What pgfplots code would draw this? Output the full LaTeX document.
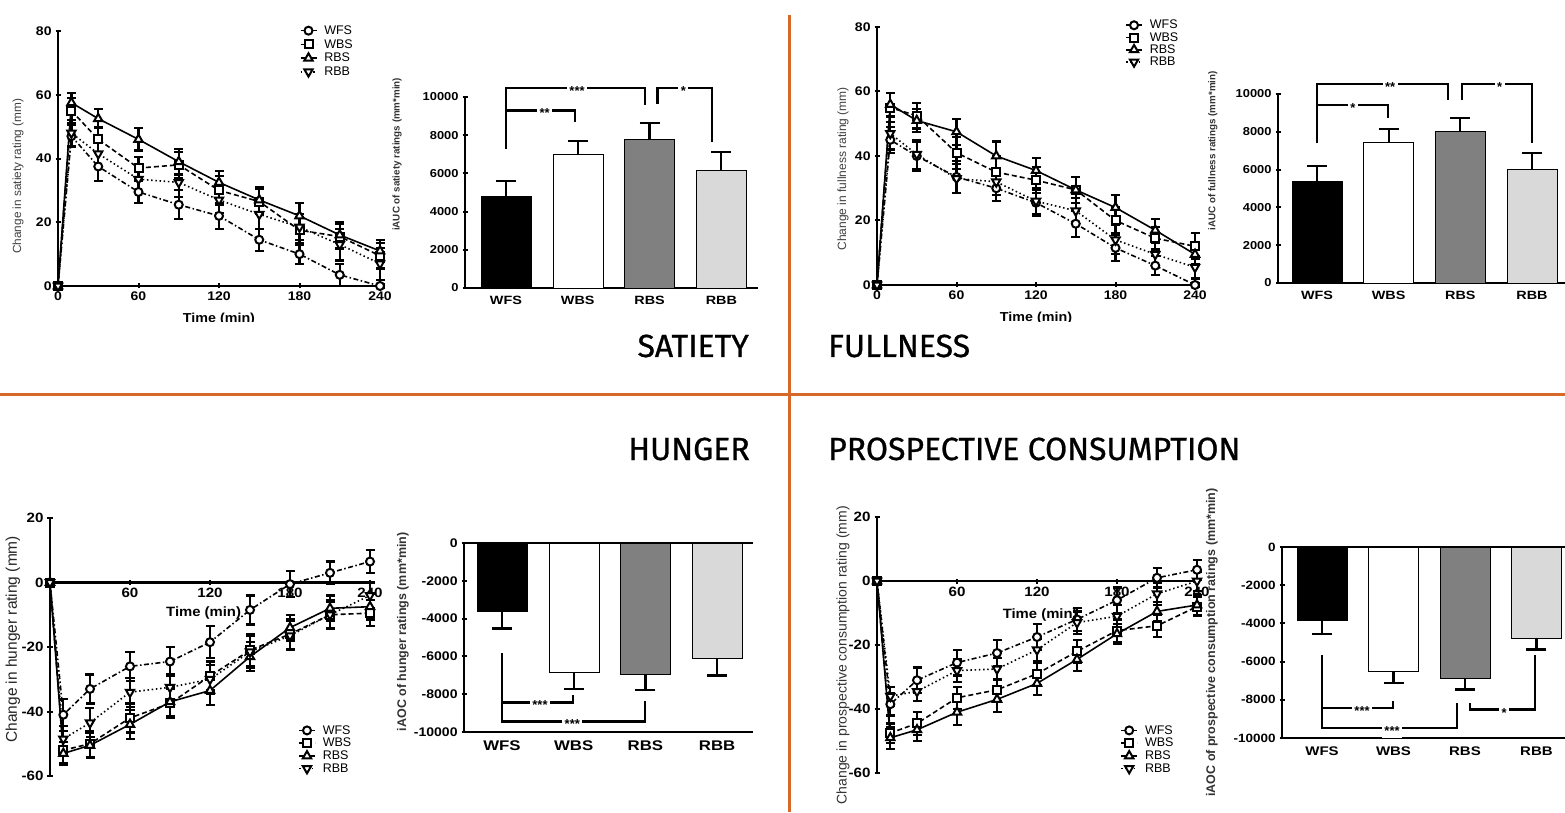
\documentclass[border=0pt]{standalone}
\usepackage{fontspec}
\setmainfont{Liberation Sans}
\newfontfamily\hdr{Fira Sans}[FakeBold=0.8]
\usepackage{pgfplots}
\usepackage{pgfplotstable}
\pgfplotsset{compat=1.18}
\definecolor{orng}{RGB}{214,104,40}
\newcommand{\fs}[1]{\fontsize{#1}{#1}\selectfont}

\tikzset{
  sig/.style={line width=2.4pt, black},
  stars/.style={fill=white, inner sep=2.5pt, font=\fs{13}\bfseries, yshift=-3pt},
}
\pgfplotsset{
  pr/.style={scale only axis, clip=false,
    axis line style={line width=2.4pt,-},
    every outer x axis line/.append style={-},
    every outer y axis line/.append style={-},
    every inner x axis line/.append style={-},
    tick style={line width=2pt, black}, major tick length=5pt, tick align=outside,
    /pgf/number format/assume math mode=true, /pgf/number format/1000 sep={},
    legend cell align=left,
    legend image code/.code={\draw[mark repeat=2,mark phase=2,##1] plot coordinates {(0pt,0pt) (8pt,0pt) (16pt,0pt)};}},
  leg/.style={legend style={draw=none, fill=none, font=\fs{12.5}, inner sep=0pt,
    /tikz/every odd column/.append style={column sep=5pt}}},
  sWFS/.style={black, line width=1.6pt, dash pattern=on 5pt off 2.5pt on 1.5pt off 2.5pt, mark=*, mark size=4pt, mark options={solid, fill=white, draw=black, line width=2pt}},
  sWBS/.style={black, line width=1.6pt, dash pattern=on 5pt off 3pt, mark=square*, mark size=4pt, mark options={solid, fill=white, draw=black, line width=2pt}},
  sRBS/.style={black, line width=1.6pt, solid, mark=triangle*, mark size=4.8pt, mark options={solid, fill=white, draw=black, line width=2pt}},
  sRBB/.style={black, line width=1.6pt, dash pattern=on 1.5pt off 2.7pt, mark=triangle*, mark size=4.8pt, mark options={solid, fill=white, draw=black, line width=2pt, rotate=180}},
  ebar/.style={/pgfplots/error bars/y dir=both, /pgfplots/error bars/y explicit,
    /pgfplots/error bars/error bar style={line width=2.2pt, solid, black},
    /pgfplots/error bars/error mark options={rotate=90, mark size=4.5pt, line width=2.2pt, solid, black}},
  bplus/.style={/pgfplots/error bars/y dir=plus, /pgfplots/error bars/y explicit,
    /pgfplots/error bars/error bar style={line width=2.2pt, black},
    /pgfplots/error bars/error mark options={rotate=90, mark size=10pt, line width=2.2pt, black}},
  bminus/.style={/pgfplots/error bars/y dir=minus, /pgfplots/error bars/y explicit,
    /pgfplots/error bars/error bar style={line width=2.2pt, black},
    /pgfplots/error bars/error mark options={rotate=90, mark size=10pt, line width=2.2pt, black}},
  barax/.style={pr, axis lines=left, axis line style={-}, ybar, bar width=50pt, bar shift=0pt,
    scaled y ticks=false,
    xtick={0,1,2,3}, xticklabels={WFS,WBS,RBS,RBB}, xtick style={draw=none},
    every bar/.style={draw=black, line width=2.2pt}},
}

\pgfplotstableread{
t wfs wfse wbs wbse rbs rbse rbb rbbe
0 0 0 0 0 0 0 0 0
10 47 3.5 55 4 57.5 3 48 4
30 37.5 4.5 46 4 52.5 3 41.5 4
60 29.5 3.5 37 3.5 46 3.5 33.5 4
90 25.5 4.5 38 4 39 4 32.5 4.5
120 22 4 30 4.5 32.5 3.5 27 4
150 14.5 3.5 26.5 4 27 4 22.5 4.5
180 10 3 17.5 4 22 4 18.5 4
210 3.5 3.5 15.5 4 16 4 13 5
240 0 0.5 9.5 4 11 3.5 7 5
}\satiety

\pgfplotstableread{
t wfs wfse wbs wbse rbs rbse rbb rbbe
0 0 0 0 0 0 0 0 0
10 45 4 55 4.5 56 3.5 47 5
30 40 4.5 52.5 4 51 3.5 40.5 4.5
60 33.5 5 41 5 47.5 4 33 4.5
90 30 4 35 5 40 4.5 32 4
120 25.5 4 32.5 4 35.5 4 26 4
150 19 4 29.5 4 29.5 4 23 4
180 11.5 4 20 4 24 4 14 4.5
210 6 3 14.5 3.5 17 3.5 9.5 3.5
240 0 0.5 12 4 9.5 3 5.5 3.5
}\fullness

\pgfplotstableread{
t wfs wfse wbs wbse rbs rbse rbb rbbe
0 0 0 0 0 0 0 0 0
10 -41 5 -52 4 -53 3.5 -48.5 4
30 -33 4.5 -50 4 -50.5 4 -43.5 4.5
60 -26 4.5 -42 4.5 -44 4.5 -34 4.5
90 -24.5 4.5 -37.5 4.5 -37 4.5 -32.5 4
120 -18.5 5 -29 4.5 -33.5 4.5 -30 4.5
150 -8.5 4.5 -21 5 -23 4.5 -21.5 5
180 -0.5 4 -16 4.5 -14 4 -16.5 4.5
210 3 3.5 -10 4 -8 4 -10 4.5
240 6.5 3.5 -9.5 4 -7.5 4 -4 4
}\hunger

\pgfplotstableread{
t wfs wfse wbs wbse rbs rbse rbb rbbe
0 0 0 0 0 0 0 0 0
10 -38.5 3.5 -47.5 3 -49 3.5 -36 3
30 -31 4 -44.5 3.5 -46.5 3.5 -34.5 3
60 -25.5 4 -36.5 3.5 -41 4 -28 3.5
90 -22.5 4 -34 3.5 -37 4 -27.5 3.5
120 -17.5 4 -29 3.5 -32 3.5 -21.5 3.5
150 -12 3.5 -22 3.5 -24.5 3.5 -13 3.5
180 -6 4 -15.5 3.5 -16.5 3 -11 3.5
210 1 3 -14 3.5 -9.5 3 -4 3.5
240 3.5 3 -8 3 -7.5 3 0 3
}\prosp

\begin{document}
\begin{tikzpicture}
\path[use as bounding box, fill=white] (0pt,0pt) rectangle (1565pt,812pt);

% dividers
\draw[orng, line width=3pt] (789pt,0pt) -- (789pt,797pt);
\draw[orng, line width=3pt] (0pt,417pt) -- (1565pt,417pt);

% headers
\begin{scope}[every node/.style={inner sep=0pt, font=\hdr\fs{32}}]
\node[anchor=base east] at (749pt,455pt) {SATIETY};
\node[anchor=base west] at (828pt,455pt) {FULLNESS};
\node[anchor=base east] at (750pt,352pt) {HUNGER};
\node[anchor=base west] at (828pt,352pt) {PROSPECTIVE CONSUMPTION};
\end{scope}

% ---------- A: satiety line ----------
\begin{scope}
\clip (0pt,490pt) rectangle (785pt,812pt);
\begin{axis}[pr, leg, axis lines=left, axis line style={-}, at={(58pt,526pt)}, anchor=south west,
  width=322pt, height=255pt, xmin=0, xmax=240, ymin=0, ymax=80,
  xtick={0,60,120,180,240}, ytick={0,20,40,60,80},
  ticklabel style={font=\fs{12.5}\bfseries, xscale=1.12},
  xlabel={Time (min)}, xlabel style={font=\fs{13}\bfseries, xscale=1.1, yshift=-5pt},
  ylabel={Change in satiety rating (mm)},
  ylabel style={at={(axis description cs:-0.124,0.43)}, anchor=center, font=\fs{11.8}, text=black!75},
  legend style={at={(axis description cs:0.75,1.03)}, anchor=north west, row sep=-0.5pt}]
\addplot[sWFS, ebar] table[x=t, y=wfs, y error=wfse] {\satiety}; \addlegendentry{WFS}
\addplot[sWBS, ebar] table[x=t, y=wbs, y error=wbse] {\satiety}; \addlegendentry{WBS}
\addplot[sRBS, ebar] table[x=t, y=rbs, y error=rbse] {\satiety}; \addlegendentry{RBS}
\addplot[sRBB, ebar] table[x=t, y=rbb, y error=rbbe] {\satiety}; \addlegendentry{RBB}
\end{axis}
\end{scope}

% ---------- B: satiety bars ----------
\begin{axis}[barax, at={(465pt,524pt)}, anchor=south west, width=293pt, height=191pt,
  xmin=-0.57, xmax=3.51, ymin=0, ymax=10000, ytick={0,2000,...,10000},
  yticklabel style={font=\fs{11.5}\bfseries, xscale=1.12},
  xticklabel style={font=\fs{12}\bfseries, xscale=1.2},
  ylabel={iAUC of satiety ratings (mm*min)},
  ylabel style={at={(axis description cs:-0.232,0.70)}, anchor=center, font=\fs{9.8}\bfseries, text=black!80}]
\addplot[fill=black, bplus] coordinates {(0,4800) +- (0,800)};
\addplot[fill=white, bplus] coordinates {(1,7000) +- (0,690)};
\addplot[fill=black!50, bplus] coordinates {(2,7800) +- (0,840)};
\addplot[fill=black!15, bplus] coordinates {(3,6150) +- (0,980)};
\draw[sig] (axis cs:0,7300) -- (axis cs:0,10470) -- (axis cs:1.94,10470) -- (axis cs:1.94,9570);
\draw[sig] (axis cs:0,9300) -- (axis cs:0.96,9300) -- (axis cs:0.96,8700);
\draw[sig] (axis cs:2.11,9650) -- (axis cs:2.11,10470) -- (axis cs:2.87,10470) -- (axis cs:2.87,7650);
\node[stars] at (axis cs:0.99,10470) {***};
\node[stars] at (axis cs:0.54,9300) {**};
\node[stars] at (axis cs:2.47,10470) {*};
\end{axis}

% ---------- C: fullness line ----------
\begin{scope}
\clip (792pt,490pt) rectangle (1565pt,812pt);
\begin{axis}[pr, leg, axis lines=left, axis line style={-}, at={(877pt,527pt)}, anchor=south west,
  width=318pt, height=258pt, xmin=0, xmax=240, ymin=0, ymax=80,
  xtick={0,60,120,180,240}, ytick={0,20,40,60,80},
  ticklabel style={font=\fs{12.5}\bfseries, xscale=1.12},
  xlabel={Time (min)}, xlabel style={font=\fs{13}\bfseries, xscale=1.1, yshift=-5pt},
  ylabel={Change in fullness rating (mm)},
  ylabel style={at={(axis description cs:-0.107,0.45)}, anchor=center, font=\fs{12}, text=black!75},
  legend style={at={(axis description cs:0.78,1.035)}, anchor=north west, row sep=-2pt}]
\addplot[sWFS, ebar] table[x=t, y=wfs, y error=wfse] {\fullness}; \addlegendentry{WFS}
\addplot[sWBS, ebar] table[x=t, y=wbs, y error=wbse] {\fullness}; \addlegendentry{WBS}
\addplot[sRBS, ebar] table[x=t, y=rbs, y error=rbse] {\fullness}; \addlegendentry{RBS}
\addplot[sRBB, ebar] table[x=t, y=rbb, y error=rbbe] {\fullness}; \addlegendentry{RBB}
\end{axis}
\end{scope}

% ---------- D: fullness bars ----------
\begin{axis}[barax, at={(1278pt,529pt)}, anchor=south west, width=292pt, height=189pt,
  xmin=-0.544, xmax=3.53, ymin=0, ymax=10000, ytick={0,2000,...,10000},
  yticklabel style={font=\fs{11.5}\bfseries, xscale=1.12},
  xticklabel style={font=\fs{12}\bfseries, xscale=1.2},
  ylabel={iAUC of fullness ratings (mm*min)},
  ylabel style={at={(axis description cs:-0.223,0.70)}, anchor=center, font=\fs{9.8}\bfseries, text=black!80}]
\addplot[fill=black, bplus] coordinates {(0,5400) +- (0,800)};
\addplot[fill=white, bplus] coordinates {(1,7450) +- (0,690)};
\addplot[fill=black!50, bplus] coordinates {(2,8050) +- (0,670)};
\addplot[fill=black!15, bplus] coordinates {(3,6000) +- (0,880)};
\draw[sig] (axis cs:0,7400) -- (axis cs:0,10530) -- (axis cs:1.83,10530) -- (axis cs:1.83,9680);
\draw[sig] (axis cs:0,9420) -- (axis cs:0.99,9420) -- (axis cs:0.99,8715);
\draw[sig] (axis cs:2.02,9680) -- (axis cs:2.02,10530) -- (axis cs:3.0,10530) -- (axis cs:3.0,7400);
\node[stars] at (axis cs:1.02,10530) {**};
\node[stars] at (axis cs:0.5,9420) {*};
\node[stars] at (axis cs:2.55,10530) {*};
\end{axis}

% ---------- E: hunger line ----------
\begin{axis}[pr, leg, axis x line=middle, axis y line=left, axis line style={-},
  at={(50pt,36pt)}, anchor=south west,
  width=320pt, height=258pt, xmin=0, xmax=240, ymin=-60, ymax=20,
  xtick={60,120,180,240}, ytick={-60,-40,-20,0,20},
  hide obscured y ticks=false,
  ticklabel style={font=\fs{13.5}\bfseries, xscale=1.12},
  xlabel={Time (min)}, xlabel style={at={(axis description cs:0.48,0.63)}, anchor=center, font=\fs{13.5}\bfseries, xscale=1.1},
  ylabel={Change in hunger rating (mm)},
  ylabel style={at={(axis description cs:-0.116,0.53)}, anchor=center, font=\fs{15.5}, text=black!85},
  legend style={at={(axis description cs:0.775,0.205)}, anchor=north west, row sep=-1.5pt}]
\addplot[sWFS, ebar] table[x=t, y=wfs, y error=wfse] {\hunger}; \addlegendentry{WFS}
\addplot[sWBS, ebar] table[x=t, y=wbs, y error=wbse] {\hunger}; \addlegendentry{WBS}
\addplot[sRBS, ebar] table[x=t, y=rbs, y error=rbse] {\hunger}; \addlegendentry{RBS}
\addplot[sRBB, ebar] table[x=t, y=rbb, y error=rbbe] {\hunger}; \addlegendentry{RBB}
\end{axis}

% ---------- F: hunger bars ----------
\begin{axis}[barax, at={(464pt,80pt)}, anchor=south west, width=289pt, height=189pt,
  xmin=-0.53, xmax=3.5, ymin=-10000, ymax=0, ytick={-10000,-8000,...,0},
  yticklabel style={font=\fs{12.5}\bfseries, xscale=1.12},
  xticklabel style={font=\fs{14}\bfseries, xscale=1.2},
  ylabel={iAOC of hunger ratings (mm*min)},
  ylabel style={at={(axis description cs:-0.211,0.53)}, anchor=center, font=\fs{12.5}\bfseries, text=black!80}]
\draw[line width=2.4pt] (rel axis cs:0,1) -- (rel axis cs:1,1);
\addplot[fill=black, bminus] coordinates {(0,-3600) +- (0,920)};
\addplot[fill=white, bminus] coordinates {(1,-6850) +- (0,880)};
\addplot[fill=black!50, bminus] coordinates {(2,-6950) +- (0,820)};
\addplot[fill=black!15, bminus] coordinates {(3,-6100) +- (0,910)};
\draw[sig] (axis cs:0,-5835) -- (axis cs:0,-9437) -- (axis cs:1.99,-9437) -- (axis cs:1.99,-8383);
\draw[sig] (axis cs:0,-8436) -- (axis cs:0.99,-8436) -- (axis cs:0.99,-8032);
\node[stars] at (axis cs:0.98,-9437) {***};
\node[stars] at (axis cs:0.53,-8436) {***};
\end{axis}

% ---------- G: prospective line ----------
\begin{axis}[pr, leg, axis x line=middle, axis y line=left, axis line style={-},
  at={(877pt,39pt)}, anchor=south west,
  width=320pt, height=256pt, xmin=0, xmax=240, ymin=-60, ymax=20,
  xtick={60,120,180,240}, ytick={-60,-40,-20,0,20},
  hide obscured y ticks=false,
  ticklabel style={font=\fs{13.5}\bfseries, xscale=1.12},
  xlabel={Time (min)}, xlabel style={at={(axis description cs:0.51,0.617)}, anchor=center, font=\fs{13.5}\bfseries, xscale=1.1},
  ylabel={Change in prospective consumption rating (mm)},
  ylabel style={at={(axis description cs:-0.106,0.46)}, anchor=center, font=\fs{14}, text=black!80},
  legend style={at={(axis description cs:0.76,0.195)}, anchor=north west, row sep=-1.5pt}]
\addplot[sWFS, ebar] table[x=t, y=wfs, y error=wfse] {\prosp}; \addlegendentry{WFS}
\addplot[sWBS, ebar] table[x=t, y=wbs, y error=wbse] {\prosp}; \addlegendentry{WBS}
\addplot[sRBS, ebar] table[x=t, y=rbs, y error=rbse] {\prosp}; \addlegendentry{RBS}
\addplot[sRBB, ebar] table[x=t, y=rbb, y error=rbbe] {\prosp}; \addlegendentry{RBB}
\end{axis}

% ---------- H: prospective bars ----------
\begin{axis}[barax, at={(1282pt,74pt)}, anchor=south west, width=288pt, height=191pt,
  xmin=-0.56, xmax=3.47, ymin=-10000, ymax=0, ytick={-10000,-8000,...,0},
  yticklabel style={font=\fs{12}\bfseries, xscale=1.12},
  xticklabel style={font=\fs{12.5}\bfseries, xscale=1.2},
  ylabel={iAOC of prospective consumption ratings (mm*min)},
  ylabel style={at={(axis description cs:-0.243,0.5)}, anchor=center, font=\fs{12.5}\bfseries, text=black!80}]
\draw[line width=2.4pt] (rel axis cs:0,1) -- (rel axis cs:1,1);
\addplot[fill=black, bminus] coordinates {(0,-3850) +- (0,690)};
\addplot[fill=white, bminus] coordinates {(1,-6500) +- (0,610)};
\addplot[fill=black!50, bminus] coordinates {(2,-6850) +- (0,610)};
\addplot[fill=black!15, bminus] coordinates {(3,-4750) +- (0,620)};
\draw[sig] (axis cs:0,-5670) -- (axis cs:0,-9476) -- (axis cs:1.89,-9476) -- (axis cs:1.89,-8168);
\draw[sig] (axis cs:0,-8429) -- (axis cs:0.99,-8429) -- (axis cs:0.99,-8080);
\draw[sig] (axis cs:2.07,-8168) -- (axis cs:2.07,-8517) -- (axis cs:2.98,-8517) -- (axis cs:2.98,-5670);
\node[stars] at (axis cs:0.98,-9476) {***};
\node[stars] at (axis cs:0.56,-8429) {***};
\node[stars] at (axis cs:2.55,-8517) {*};
\end{axis}
\end{tikzpicture}
\end{document}
